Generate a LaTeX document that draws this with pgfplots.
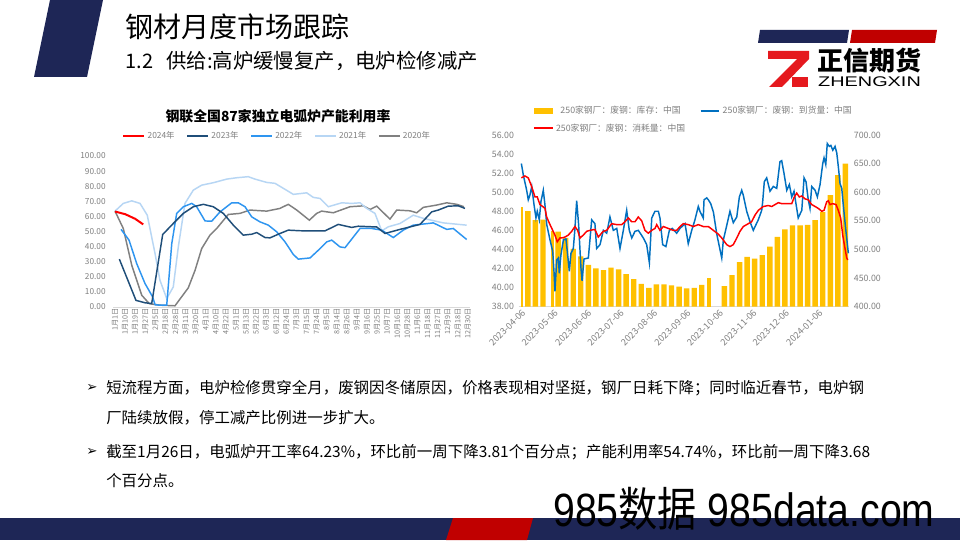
\documentclass[border=0pt]{standalone}
\usepackage{pgfplots}
\pgfplotsset{compat=1.18}
\usepackage{fontspec}
\setmainfont{Noto Sans CJK SC}
\newfontfamily\symfont{DejaVu Sans}
\newfontfamily\latinfont{Liberation Sans}
\newfontfamily\cjkfont{Noto Sans CJK SC}
\definecolor{navy}{HTML}{1E2656}
\definecolor{accred}{HTML}{C00000}
\definecolor{logored}{HTML}{E5191E}
\definecolor{barGold}{HTML}{FFC000}
\definecolor{arrblue}{HTML}{0070C0}
\definecolor{cA}{HTML}{1F4E79}
\definecolor{cB}{HTML}{2E95F0}
\definecolor{cC}{HTML}{B7D6F4}
\definecolor{cD}{HTML}{808080}
\definecolor{labgray}{HTML}{7F7F7F}
\definecolor{axisgray}{HTML}{D9D9D9}
\begin{document}
\begin{tikzpicture}[x=0.75pt,y=0.75pt]
\useasboundingbox (0,0) rectangle (960,540);
\fill[white] (0,0) rectangle (960,540);
% header decorations
\fill[navy] (50,540) -- (103,540) -- (87,463) -- (34,463) -- cycle;
\node[anchor=west, inner sep=0] at (125.5,513) {\fontsize{21}{21}\selectfont 钢材月度市场跟踪};
\node[anchor=west, inner sep=0] at (125.5,479) {\fontsize{15}{15}\selectfont 1.2};
\node[anchor=west, inner sep=0] at (166,479) {\fontsize{15.3}{15}\selectfont 供给:高炉缓慢复产，电炉检修减产};
% logo
\fill[navy] (760,510) -- (849,510) -- (847,497) -- (758,497) -- cycle;
\fill[accred] (852,510) -- (937,510) -- (935,497) -- (850,497) -- cycle;
\fill[logored] (768,489) -- (809,489) -- (809,481) -- (782,453) -- (769,453) -- (797,481) -- (768,481) -- cycle;
\fill[logored] (792,463) rectangle (808,453);
\node[inner sep=0] at (869.5,479) {\fontsize{19.5}{20}\selectfont\bfseries 正信期货};
\node[inner sep=0, xscale=1.42] at (869.5,458) {\fontsize{10.5}{11}\selectfont\latinfont ZHENGXIN};
% bottom band
\fill[navy] (0,0) rectangle (960,22);
\fill[accred] (453,22) -- (533,22) -- (527,0) -- (446,0) -- cycle;

% left chart title
\node[inner sep=0] at (278,423.5) {\fontsize{10.4}{11}\selectfont\bfseries 钢联全国87家独立电弧炉产能利用率};

\begin{axis}[
 at={(84.75pt,174.75pt)}, anchor=south west,
 scale only axis, width=267.6pt, height=113.25pt,
 xmin=-0.2, xmax=35.2, ymin=0, ymax=100,
 axis x line*=bottom, axis y line*=left,
 x axis line style={-, draw=axisgray, line width=0.6pt},
 y axis line style={draw=none},
 tick style={draw=none},
 xtick={0,...,35},
 xticklabels={1月1日,1月10日,1月19日,1月27日,2月5日,2月18日,2月28日,3月11日,3月20日,4月1日,4月10日,4月22日,5月1日,5月13日,5月22日,6月3日,6月12日,6月24日,7月3日,7月15日,7月24日,8月5日,8月14日,8月26日,9月4日,9月16日,9月25日,10月7日,10月16日,10月28日,11月6日,11月18日,11月27日,12月9日,12月18日,12月30日},
 x tick label style={rotate=90, anchor=east, font=\fontsize{5.4}{6}\selectfont, text=labgray, inner sep=1pt},
 ytick={0,10,...,100},
 y tick label style={font=\fontsize{6.2}{7}\selectfont, text=labgray, xshift=-2pt, /pgf/number format/fixed, /pgf/number format/fixed zerofill, /pgf/number format/precision=2, /pgf/number format/assume math mode=true},
 legend style={at={(0.461,1.132)}, anchor=center, draw=none, fill=none, legend columns=-1, font=\fontsize{6.3}{7}\selectfont\color{labgray}, /tikz/every even column/.append style={column sep=7pt}, inner sep=0pt},
 legend image code/.code={\draw[#1] (0pt,0pt) -- (15.5pt,0pt);},
]
\addlegendimage{red, line width=1.5pt}\addlegendentry{2024年}
\addlegendimage{cA, line width=1.1pt}\addlegendentry{2023年}
\addlegendimage{cB, line width=1.1pt}\addlegendentry{2022年}
\addlegendimage{cC, line width=1.1pt}\addlegendentry{2021年}
\addlegendimage{cD, line width=1.1pt}\addlegendentry{2020年}
\addplot[cD, line width=1.1pt, forget plot] coordinates {(0,63.5)(0.82,52)(1.66,27.7)(2.65,7.8)(3.4,2.2)(4.46,1.2)(5.95,0.8)(7.27,12.7)(7.94,24.3)(8.6,38.7)(9.42,47.6)(10.09,52)(11.24,61.3)(12.4,62)(13.39,64.2)(15.05,63.5)(16.37,65.3)(17.19,68)(18.03,64.2)(19.28,57.5)(20.01,62)(20.5,63.5)(21.66,62.4)(23.31,66.4)(24.63,67)(25.3,64.6)(25.96,66.8)(27.28,58.2)(27.95,64.2)(29.27,63.7)(29.93,62.4)(30.59,66)(31.91,67.5)(32.91,69)(33.9,68)(34.62,66.4)};
\addplot[cC, line width=1.1pt, forget plot] coordinates {(0,63.5)(0.82,68.6)(1.66,70.3)(2.48,68.6)(3.2,60.8)(3.97,35.4)(4.46,17.7)(5.13,5.6)(5.78,13.3)(6.28,39.8)(6.94,68.6)(7.77,77.4)(8.6,80.7)(9.75,82.3)(11.08,84.7)(12.07,85.6)(13.22,86.3)(13.89,84.7)(15.05,82.5)(15.87,81.9)(16.7,78.6)(17.69,74.6)(19.02,75.6)(19.67,72.6)(20.34,71.9)(21.16,66.4)(22.49,69)(23.48,68.6)(24.31,69)(24.97,65.3)(25.79,62)(26.46,50.4)(27.11,53.1)(28.27,55.3)(29.59,60.8)(30.59,58.7)(32.57,55.7)(34.89,54.2)};
\addplot[cB, line width=1.1pt, forget plot] coordinates {(0.6,51.4)(1.39,44.3)(2.15,28.8)(2.98,15.5)(3.74,6.6)(3.97,1.5)(4.46,1.2)(5.13,1.2)(5.63,42)(6.12,62)(6.78,66.4)(7.61,68.6)(8.1,66.4)(8.93,57)(9.59,56.8)(10.42,63)(11.58,69)(12.23,69)(12.9,66.4)(13.56,59.7)(14.38,56.4)(15.21,54.2)(16.04,49.8)(16.87,43.1)(17.69,34.8)(18.18,31.7)(19.35,32.5)(20.17,37.6)(21,43.1)(21.5,44.3)(22.32,39.8)(22.82,39.3)(24.31,52)(25.47,52)(26.46,50.9)(27.61,46)(28.6,50.9)(29.59,54.2)(31.58,55.7)(32.91,51.4)(33.56,52)(34.89,44.7)};
\addplot[cA, line width=1.1pt, forget plot] coordinates {(0.43,31.7)(2.08,4.4)(2.98,2.8)(3.64,2.3)(4.73,48)(5.78,55.3)(6.78,62)(7.77,66.4)(8.76,68)(9.75,66.4)(10.74,62)(11.74,54.2)(12.73,47.6)(13.56,48.2)(14.06,49.3)(14.88,46)(15.38,45.8)(16.37,48.7)(17.19,50.9)(18.35,50.5)(19.35,50.4)(20.83,50.4)(22.15,54.7)(23.48,52.7)(24.14,53.5)(25.96,53)(26.79,48.7)(28.27,51.4)(30.26,54.7)(31.42,63)(32.07,64.2)(33.07,66.8)(34.06,67)(34.72,65.3)};
\addplot[red, line width=1.5pt, forget plot] coordinates {(0,63.2)(1,61.5)(2,58.4)(2.8,54.7)};
\end{axis}

% right chart: bars on right axis
\begin{axis}[
 at={(389.0pt,175.0pt)}, anchor=south west,
 scale only axis, width=247.9pt, height=128.8pt,
 xmin=-2.5, xmax=303.5, ymin=400, ymax=700,
 axis x line*=bottom, axis y line*=right,
 x axis line style={-, draw=axisgray, line width=0.6pt},
 y axis line style={draw=none},
 tick style={draw=none},
 xtick={0,30,61,91,122,153,183,214,244,275},
 xticklabels={2023-04-06,2023-05-06,2023-06-06,2023-07-06,2023-08-06,2023-09-06,2023-10-06,2023-11-06,2023-12-06,2024-01-06},
 x tick label style={rotate=45, anchor=north east, font=\fontsize{6.8}{7}\selectfont, text=labgray, inner sep=1pt},
 ytick={400,450,...,700},
 y tick label style={font=\fontsize{6.6}{7}\selectfont, text=labgray, /pgf/number format/fixed, /pgf/number format/fixed zerofill, /pgf/number format/precision=2, /pgf/number format/assume math mode=true},
]
\addplot[ybar, bar width=5, bar shift=0pt, fill=barGold, draw=none] coordinates {(6,567)(13,551)(20,552)(34,531)(41,520)(48,501)(55,488)(62,473)(69,467)(76,464)(83,468)(90,465)(97,457)(104,448)(111,440)(118,433)(125,439)(132,439)(139,437)(146,435)(153,432)(160,433)(167,438)(188,436)(195,455)(202,478)(209,487)(216,484)(223,490)(230,505)(237,522)(244,535)(251,542)(258,542)(265,543)(272,551)(279,565)(286,595)(293,630)(300,650)};
\addplot[ybar, bar width=2, bar shift=0pt, fill=barGold, draw=none] coordinates {(0.5,574)};
\addplot[ybar, bar width=3, bar shift=0pt, fill=barGold, draw=none] coordinates {(29,532)};
\addplot[ybar, bar width=4, bar shift=0pt, fill=barGold, draw=none] coordinates {(173.5,450)};
\end{axis}

% right chart: lines on left axis
\begin{axis}[
 at={(389.0pt,175.0pt)}, anchor=south west,
 scale only axis, width=247.9pt, height=128.8pt,
 xmin=-2.5, xmax=303.5, ymin=38, ymax=56,
 axis x line=none, xtick=\empty, axis y line*=left,
 y axis line style={draw=none},
 tick style={draw=none},
 ytick={38,40,...,56},
 y tick label style={font=\fontsize{6.6}{7}\selectfont, text=labgray, /pgf/number format/fixed, /pgf/number format/fixed zerofill, /pgf/number format/precision=2, /pgf/number format/assume math mode=true},
 legend style={at={(0.043,1.185)}, anchor=north west, draw=none, fill=none, legend columns=2, font=\fontsize{6.6}{7.5}\selectfont\color{labgray}, /tikz/every even column/.append style={column sep=9pt}, inner sep=0pt, row sep=2pt},
 legend image code/.code={\draw[#1] (0pt,0pt) -- (14pt,0pt);},
]
\addlegendimage{legend image code/.code={\fill[barGold] (0pt,-2.2pt) rectangle (14pt,2.2pt);}}\addlegendentry{250家钢厂：废钢：库存：中国}
\addlegendimage{arrblue, line width=1.2pt}\addlegendentry{250家钢厂：废钢：到货量：中国}
\addlegendimage{red, line width=1.2pt}\addlegendentry{250家钢厂：废钢：消耗量：中国}
\addplot[arrblue, line width=1.1pt, forget plot] coordinates {(0,53.0)(1.8,51.8)(4.9,50.2)(6.4,49.2)(7.9,49.7)(9.6,50.6)(11.7,48.7)(13.5,47.3)(14.7,48.0)(16.6,47.1)(18.1,49.0)(20.3,50.2)(21.8,48.7)(23.5,46.6)(26.5,45.0)(29,43.8)(30.2,41.7)(31.1,39.6)(32.7,42.9)(34.2,43.1)(35.1,41.5)(36.6,43.4)(38.9,45.0)(41.3,45.1)(42.5,43.8)(44.4,41.7)(45.9,43.6)(48.1,44.1)(49.6,46.2)(51.2,49.1)(53,46.6)(55.2,42.0)(56.2,40.7)(58,43.0)(62,43.1)(65.1,47.1)(68.1,46.7)(69.7,44.1)(72.8,44.5)(75.9,46.0)(79,45.7)(82,47.4)(85.1,46.0)(88.3,46.2)(91.3,44.1)(94.4,46.0)(97.5,48.1)(99.9,46.0)(102.2,45.2)(105.2,45.9)(108.3,46.0)(112.9,45.2)(116,44.5)(118.5,42.6)(120.7,47.3)(123.7,48.0)(126.8,48.0)(128.3,47.3)(130.8,44.5)(133.8,44.3)(137,46.0)(139.7,46.2)(143.8,45.7)(146.8,46.2)(151.5,46.7)(154.5,44.6)(157.7,46.0)(160.7,47.1)(163.8,48.5)(165.3,48.0)(168.4,47.3)(169.1,49.2)(171.6,49.4)(173.1,49.2)(175.3,48.8)(177.8,47.9)(180.9,45.6)(185.5,43.1)(187,45.0)(190.1,46.5)(193.1,48.0)(196.2,46.8)(199.4,47.4)(201.8,49.5)(204,50.2)(205.4,49.7)(208.6,48.0)(211.7,46.9)(214.7,46.0)(219.3,47.1)(222.5,48.1)(223.4,49.0)(224.9,51.1)(227.1,51.5)(230.2,50.1)(233.2,50.6)(236.4,50.4)(239.4,53.2)(241,53.3)(243.1,52.0)(245.7,50.2)(248.1,50.8)(250.3,49.5)(252.4,50.1)(254.9,48.3)(256.3,47.3)(259.6,48.1)(261.7,51.5)(263.5,51.1)(265.6,49.2)(267.2,48.3)(268.8,50.6)(271.9,50.2)(274,49.5)(276.5,50.8)(279,53.0)(280.2,53.6)(281.8,52.9)(283.2,55.1)(285.1,54.8)(286.5,54.9)(288.3,54.4)(290.4,54.8)(292,54.1)(293.4,52.7)(295,50.9)(296.6,50.4)(298,48.7)(300.2,46.2)(302.7,43.6)};
\addplot[red, line width=1.1pt, forget plot] coordinates {(0,51.5)(3.3,51.7)(6.4,51.5)(9.5,50.6)(12.6,49.5)(14.7,49.5)(17.2,48.7)(19.7,48.5)(21.9,48.3)(23.4,47.4)(26.5,46.6)(31.1,45.5)(33.2,44.8)(35.7,45.2)(37.3,45.2)(40.4,45.3)(43.4,45.5)(46.6,45.9)(49.6,46.4)(52.1,46.0)(54.3,45.2)(57.3,45.5)(60.5,45.9)(63.5,46.0)(68.1,46.1)(71.2,45.3)(75.8,45.9)(79,46.0)(83.6,46.7)(88.2,46.6)(92.9,46.6)(95.9,46.9)(99,47.3)(102.1,46.9)(105.2,46.9)(108.2,47.4)(111.4,47.0)(114.4,46.0)(117.5,45.7)(120.6,46.0)(123.7,46.2)(125.3,46.6)(128.3,46.0)(131.4,46.4)(136,46.2)(140.6,46.0)(143.8,46.0)(146.9,46.4)(149.9,46.7)(154.5,46.6)(159.2,46.4)(163.8,46.6)(168.4,46.4)(173.1,46.4)(177.7,46.0)(182.3,45.6)(185.5,45.2)(190.1,44.5)(193.1,44.3)(196.2,44.5)(199.4,45.2)(202.4,45.9)(205.5,46.4)(210.1,46.7)(213.2,46.9)(216.3,47.6)(219.4,48.1)(224,48.5)(228.6,48.6)(231.8,48.5)(234.8,48.7)(237.9,48.9)(241,48.8)(245.6,48.8)(250.3,48.8)(252.7,49.5)(254.9,49.9)(257.3,49.5)(259.5,49.6)(262.6,49.3)(265.6,49.2)(268.8,48.7)(271.9,48.5)(274.9,48.3)(278.1,48.0)(280.2,48.1)(282.7,49.0)(284.2,49.1)(285.7,48.7)(288.2,48.8)(291.3,48.7)(293.4,48.1)(295.6,47.3)(297.5,45.5)(299.6,44.1)(301.2,43.1)(302.1,42.9)};
\end{axis}

% bullets
\node[anchor=west, inner sep=0] at (86,152) {\fontsize{10}{10}\selectfont\symfont ➢};
\node[anchor=west, inner sep=0] at (106,152) {\fontsize{11.6}{12}\selectfont 短流程方面，电炉检修贯穿全月，废钢因冬储原因，价格表现相对坚挺，钢厂日耗下降；同时临近春节，电炉钢};
\node[anchor=west, inner sep=0] at (106,122) {\fontsize{11.6}{12}\selectfont 厂陆续放假，停工减产比例进一步扩大。};
\node[anchor=west, inner sep=0] at (86,88) {\fontsize{10}{10}\selectfont\symfont ➢};
\node[anchor=west, inner sep=0] at (106,88) {\fontsize{11.6}{12}\selectfont 截至1月26日，电弧炉开工率64.23\%，环比前一周下降3.81个百分点；产能利用率54.74\%，环比前一周下降3.68};
\node[anchor=west, inner sep=0] at (106,59) {\fontsize{11.6}{12}\selectfont 个百分点。};

% watermark
\node[anchor=base west, inner sep=0, xscale=0.84] at (553,14) {\fontsize{35}{35}\selectfont\latinfont 985{\cjkfont 数据} 985data.com};
\end{tikzpicture}
\end{document}
